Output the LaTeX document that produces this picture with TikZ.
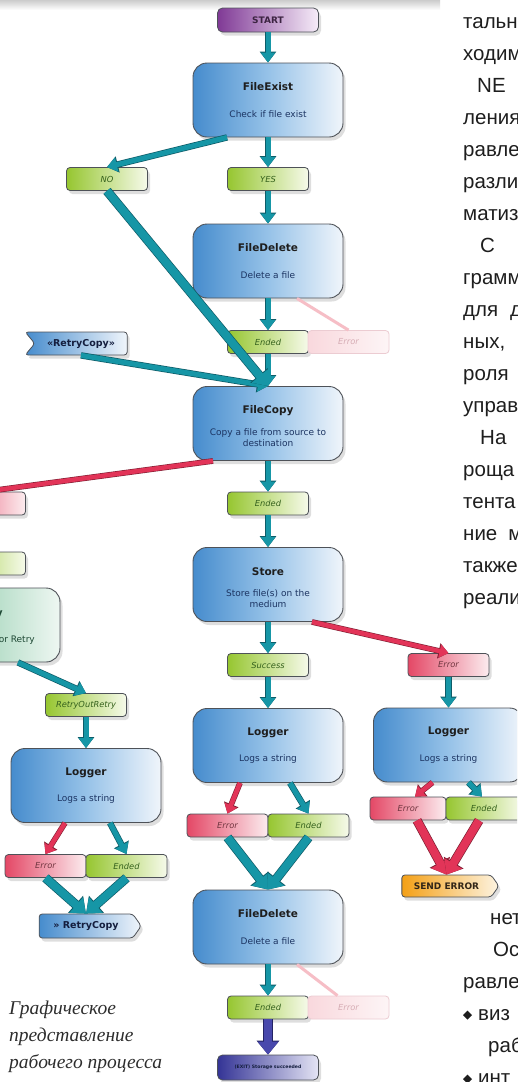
\documentclass[tikz,border=0pt]{standalone}
\usepackage{fontspec}
\setmainfont{DejaVu Sans}
\newfontfamily\colfont{Liberation Sans}
\newfontfamily\capfont{Liberation Serif}
\usetikzlibrary{arrows.meta,shapes.symbols,shadows}

% fills
\definecolor{blueL}{RGB}{70,140,205}
\definecolor{blueM}{RGB}{150,194,232}
\definecolor{blueR}{RGB}{240,245,251}
\definecolor{greenL}{RGB}{150,198,48}
\definecolor{greenR}{RGB}{246,250,234}
\definecolor{redL}{RGB}{228,72,102}
\definecolor{redR}{RGB}{252,236,239}
\definecolor{fadeL}{RGB}{249,216,221}
\definecolor{fadeR}{RGB}{253,245,246}
\definecolor{fadeB}{RGB}{236,204,210}
\definecolor{fadeT}{RGB}{214,172,180}
\definecolor{purpL}{RGB}{128,58,150}
\definecolor{purpR}{RGB}{246,236,248}
\definecolor{indL}{RGB}{52,52,150}
\definecolor{indR}{RGB}{228,228,244}
\definecolor{oranL}{RGB}{244,160,22}
\definecolor{oranR}{RGB}{253,244,226}
\definecolor{mintL}{RGB}{80,160,120}
\definecolor{mintM}{RGB}{175,218,195}
\definecolor{mintR}{RGB}{238,247,242}
% lines and text
\definecolor{edge}{RGB}{78,82,88}
\definecolor{flowc}{RGB}{22,150,166}
\definecolor{flowd}{RGB}{14,92,104}
\definecolor{failc}{RGB}{226,52,88}
\definecolor{faild}{RGB}{128,30,50}
\definecolor{exitc}{RGB}{72,72,172}
\definecolor{exitd}{RGB}{36,36,100}
\definecolor{faintc}{RGB}{246,190,198}
\definecolor{subc}{RGB}{28,52,98}
\definecolor{okc}{RGB}{52,96,28}
\definecolor{errc}{RGB}{112,54,64}
\definecolor{inkc}{RGB}{30,30,30}
\definecolor{navy}{RGB}{20,30,62}
\definecolor{startc}{RGB}{60,36,66}
\definecolor{sendT}{RGB}{50,38,24}
\definecolor{mintT}{RGB}{30,72,52}
\definecolor{colc}{RGB}{30,30,30}
\definecolor{capc}{RGB}{45,45,45}

\tikzset{
  shadowed/.style={drop shadow={shadow xshift=2.5pt,shadow yshift=-3.5pt,opacity=.13,fill=black}},
  actbox/.style={draw=edge,line width=.9pt,rounded corners=14pt,minimum width=150pt,
    minimum height=74pt,inner sep=0pt,shadowed,left color=blueL,right color=blueR,middle color=blueM},
  mintbox/.style={actbox,left color=mintL,right color=mintR,middle color=mintM},
  ttl/.style={font=\fontsize{10.5}{12}\selectfont\bfseries,text=inkc,inner sep=0pt},
  sub/.style={font=\fontsize{9}{11}\selectfont,text=subc,inner sep=0pt,align=center},
  lbl/.style={draw=edge,line width=.8pt,rounded corners=3.5pt,minimum width=81pt,
    minimum height=23pt,inner sep=0pt,font=\fontsize{8.3}{10}\selectfont\itshape},
  okl/.style={lbl,shadowed,left color=greenL,right color=greenR,text=okc},
  errl/.style={lbl,shadowed,left color=redL,right color=redR,text=errc},
  fadel/.style={lbl,draw=fadeB,left color=fadeL,right color=fadeR,text=fadeT},
  capsule/.style={draw=edge,line width=.8pt,rounded corners=5pt,minimum width=101pt,
    minimum height=24pt,inner sep=0pt,shadowed,font=\fontsize{9}{10}\selectfont\bfseries},
  startbox/.style={capsule,left color=purpL,right color=purpR,text=startc},
  exitbox/.style={capsule,minimum height=25pt,left color=indL,right color=indR,text=navy,
    font=\fontsize{4.6}{5}\selectfont\bfseries},
  sigbase/.style={shape=signal,draw=edge,line width=.8pt,rounded corners=3pt,inner sep=0pt,
    shadowed,font=\fontsize{9.5}{11}\selectfont\bfseries},
  sigin/.style={sigbase,signal from=west,signal to=nowhere,signal pointer angle=100,
    minimum width=102pt,minimum height=23pt,left color=blueL,right color=blueR,text=navy},
  sigout/.style={sigbase,signal to=east,signal pointer angle=110,
    minimum width=102pt,minimum height=24pt,left color=blueL,right color=blueR,text=navy},
  sendbox/.style={sigbase,signal to=east,signal pointer angle=110,minimum width=97pt,
    minimum height=22pt,left color=oranL,right color=oranR,text=sendT,
    font=\fontsize{9}{10}\selectfont\bfseries},
  flow/.style={draw=flowc,line width=5pt,-{Triangle[width=14pt,length=10pt]},
    preaction={draw=flowd,line width=6.4pt,-{Triangle[width=16pt,length=11pt]}}},
  flowbig/.style={draw=flowc,line width=8pt,-{Triangle[width=20pt,length=13pt]},
    preaction={draw=flowd,line width=9.4pt,-{Triangle[width=22pt,length=14pt]}}},
  fail/.style={draw=failc,line width=4.5pt,-{Triangle[width=13pt,length=9pt]},
    preaction={draw=faild,line width=5.7pt,-{Triangle[width=15pt,length=10pt]}}},
  failbig/.style={draw=failc,line width=8pt,-{Triangle[width=20pt,length=13pt]},
    preaction={draw=faild,line width=9.4pt,-{Triangle[width=22pt,length=14pt]}}},
  exitflow/.style={draw=exitc,line width=8pt,-{Triangle[width=20pt,length=13pt]},
    preaction={draw=exitd,line width=9.4pt,-{Triangle[width=22pt,length=14pt]}}},
  faint/.style={draw=faintc,line width=3pt},
  coltext/.style={font=\colfont\fontsize{20.5}{24}\selectfont,text=colc,anchor=base west,inner sep=0pt},
  captext/.style={font=\capfont\itshape\fontsize{19.5}{22}\selectfont,text=capc,anchor=base west,inner sep=0pt},
}

% activity box: name, position, title, description
\newcommand\actbox[5][]{%
  \node[actbox,#1] (#2) at #3 {};
  \node[ttl] (#2-t) at ([yshift=13pt]#2.center) {#4};
  \node[sub] (#2-s) at ([yshift=-14pt]#2.center) {#5};
}

\begin{document}
\begin{tikzpicture}[x=1pt,y=-1pt]
\useasboundingbox (0,0) rectangle (517,1082);
\clip (0,0) rectangle (517,1082);
\fill[white] (0,0) rectangle (517,1082);
\shade[top color=black!20,bottom color=white] (0,0) rectangle (440,10);

% main column
\node[startbox] (start) at (268,20) {START};
\actbox{fe}{(268,100)}{FileExist}{Check if file exist}
\node[okl] (no) at (107,179) {NO};
\node[okl] (yes) at (268,179) {YES};
\actbox{fdA}{(268,261)}{FileDelete}{Delete a file}
\node[okl] (endA) at (268,342) {Ended};
\node[fadel] (errA) at (348.5,342) {Error};
\node[sigin] (retryin) at (81,343.5) {«RetryCopy»};
\actbox{fc}{(268,423.5)}{FileCopy}{Copy a file from source to\\destination}
\node[okl] (endB) at (268,503.5) {Ended};
\actbox{st}{(268,584.5)}{Store}{Store file(s) on the\\medium}
\node[okl] (succ) at (268,665) {Success};
\node[errl] (errB) at (448.5,665) {Error};
\actbox{logM}{(268,745.5)}{Logger}{Logs a string}
\actbox{logR}{(448.5,745)}{Logger}{Logs a string}
\node[errl] (errM) at (227.5,825.5) {Error};
\node[okl] (endM) at (308.5,825.5) {Ended};
\node[errl,minimum width=76pt] (errR) at (408,808.5) {Error};
\node[okl,minimum width=76pt] (endR) at (484,808.5) {Ended};
\node[sendbox] (send) at (446.5,886) {SEND ERROR};
\actbox{fdB}{(268,927)}{FileDelete}{Delete a file}
\node[okl] (endC) at (268,1007.5) {Ended};
\node[fadel] (errC) at (348.5,1007.5) {Error};
\node[exitbox] (exit) at (268,1067.5) {(EXIT) Storage succeeded};

% retry branch on the left
\node[errl] (errL) at (-15,503.5) {};
\node[okl] (okL) at (-15,563.5) {};
\node[mintbox] (wait) at (-15,625) {};
\node[ttl,text=mintT,anchor=base east] (wait-t) at (3,616) {y};
\node[sub,text=mintT,anchor=base east] (wait-s) at (35,642.5) {or Retry};
\node[okl] (rout) at (86,705) {RetryOutRetry};
\actbox{logL}{(86,785.5)}{Logger}{Logs a string}
\node[errl] (errLL) at (45.5,866) {Error};
\node[okl] (endLL) at (126.5,866) {Ended};
\node[sigout] (retryout) at (86,926) {» RetryCopy};

% connectors
\draw[flow] (start.south) -- (fe.north);
\draw[flow] (fe.south) -- (yes.north);
\draw[flow] ([xshift=-41pt]fe.south) -- (no.north);
\draw[flow] (yes.south) -- (fdA.north);
\draw[flow] (fdA.south) -- (endA.north);
\draw[faint] ([xshift=29pt]fdA.south) -- (errA.north);
\draw[flow] (endA.south) -- (fc.north);
\draw[flow] (retryin.south) -- (fc.north);
\draw[flowbig] (no.south) -- (fc.north);
\draw[fail] ([xshift=-55pt]fc.south) -- (errL.north);
\draw[flow] (fc.south) -- (endB.north);
\draw[flow] (endB.south) -- (st.north);
\draw[flow] (st.south) -- (succ.north);
\draw[fail] ([xshift=44pt]st.south) -- (errB.north);
\draw[flow] (succ.south) -- (logM.north);
\draw[flow] (errB.south) -- (logR.north);
\draw[fail] ([xshift=-28pt]logM.south) -- (errM.north);
\draw[flow] ([xshift=22pt]logM.south) -- (endM.north);
\draw[flowbig] (errM.south) -- (fdB.north);
\draw[flowbig] (endM.south) -- (fdB.north);
\draw[flow] (fdB.south) -- (endC.north);
\draw[faint] ([xshift=29pt]fdB.south) -- ([xshift=-11pt]errC.north);
\draw[exitflow] (endC.south) -- (exit.north);
\draw[flow] ([xshift=33pt]wait.south) -- (rout.north);
\draw[flow] (rout.south) -- (logL.north);
\draw[fail] ([xshift=-21pt]logL.south) -- (errLL.north);
\draw[flow] ([xshift=24pt]logL.south) -- (endLL.north);
\draw[flowbig] (errLL.south) -- (retryout.north);
\draw[flowbig] (endLL.south) -- (retryout.north);
\draw[fail] ([xshift=-16pt]logR.south) -- ([xshift=7pt]errR.north);
\draw[flow] ([xshift=20pt]logR.south) -- ([xshift=-2pt]endR.north);
\draw[failbig] ([xshift=9pt]errR.south) -- (send.north);
\draw[failbig] ([xshift=-5pt]endR.south) -- (send.north);

% caption
\node[captext] (capA) at (9,1014) {Графическое};
\node[captext] (capB) at (9,1041) {представление};
\node[captext] (capC) at (9,1068) {рабочего процесса};

% running text of the column on the right
\foreach \yy/\xx/\ww [count=\i] in {
  28/463/тальн, 60/463/ходим, 92/477/NE, 124/463/ления, 156/463/равле,
  188/463/разли, 220/463/матиз, 252/480/С, 284/463/грамм, 316/463/{для\hspace{12pt}д},
  348/463/{ных,}, 380/463/роля, 412/463/управ, 444/480/На, 476/463/роща,
  508/463/тента, 540/463/{ние\hspace{11pt}м}, 572/463/также, 604/463/реали,
  924/490/нет, 956/493/Ос, 988/463/равле, 1020/478/виз, 1052/488/раб, 1084/478/инт}
  \node[coltext] (txt\i) at (\xx,\yy) {\ww};
\foreach \by in {1015,1079}
  \fill[colc] (467.5,\by-4.5) -- (472,\by) -- (467.5,\by+4.5) -- (463,\by) -- cycle;
\end{tikzpicture}
\end{document}
